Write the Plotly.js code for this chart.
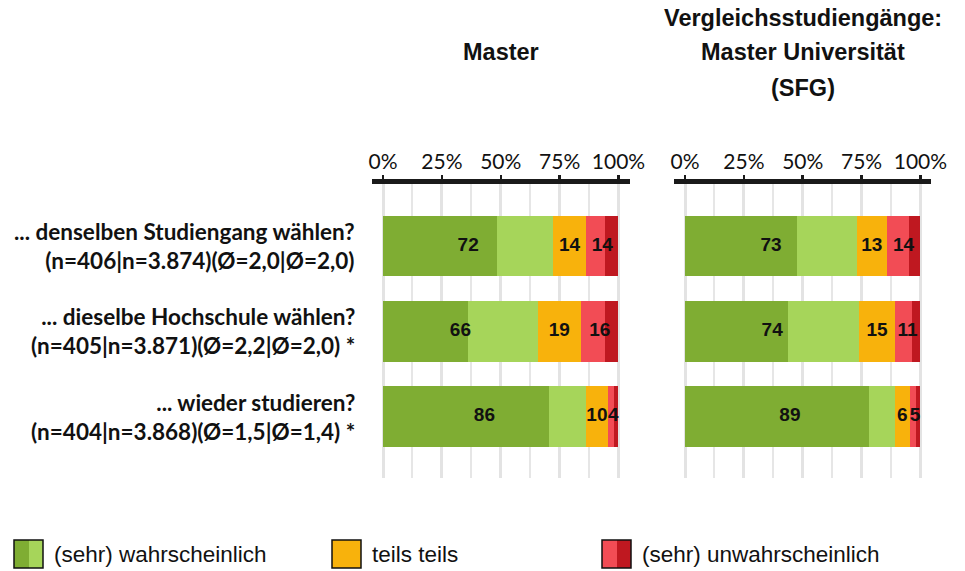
<!DOCTYPE html>
<html>
<head>
<meta charset="utf-8">
<script src="https://cdn.plot.ly/plotly-3.0.1.min.js"></script>
<style>html,body{margin:0;padding:0;background:#fff;}#chart{width:965px;height:571px;}</style>
</head>
<body>
<div id="chart"></div>
<script>
// ---- data ----
const rowPos = [0, 1, 2];
const labelsLine1 = ["... denselben Studiengang wählen?", "... dieselbe Hochschule wählen?", "... wieder studieren?"];
const labelsLine2 = ["(n=406|n=3.874)(Ø=2,0|Ø=2,0)", "(n=405|n=3.871)(Ø=2,2|Ø=2,0) *", "(n=404|n=3.868)(Ø=1,5|Ø=1,4) *"];
const panelTitleLeft = ["Master"];
const panelTitleRight = ["Vergleichsstudiengänge:", "Master Universität", "(SFG)"];
const tickVals = [0, 25, 50, 75, 100];
const tickLabels = ["0%", "25%", "50%", "75%", "100%"];
const legendLabels = ["(sehr) wahrscheinlich", "teils teils", "(sehr) unwahrscheinlich"];

// Master
const masterDG = [48.4, 35.9, 70.5];
const masterLG = [23.9, 29.8, 15.6];
const masterOR = [13.9, 18.4, 9.5];
const masterLR = [8.1, 10.2, 2.6];
const masterDR = [5.7, 5.7, 1.8];
const masterGreenLbl = [72, 66, 86];
const masterOrLbl = [14, 19, 10];
const masterRedLbl = [14, 16, 4];

// Vergleich SFG
const sfgDG = [47.5, 43.7, 78.1];
const sfgLG = [25.5, 30.3, 11.0];
const sfgOR = [12.7, 15.1, 6.4];
const sfgLR = [9.3, 7.2, 2.5];
const sfgDR = [5.0, 3.7, 2.0];
const sfgGreenLbl = [73, 74, 89];
const sfgOrLbl = [13, 15, 6];
const sfgRedLbl = [14, 11, 5];

// ---- styles ----
const C = {dg: "#7FAD33", lg: "#A6D55A", or: "#F8B20C", lr: "#F24C55", dr: "#BF1820"};
const W = 965, H = 571;
const px = v => v / W, py = v => 1 - v / H;

const traces = [];
function panel(xa, ya, dg, lg, or, lr, dr, gL, oL, rL) {
  const segs = [[dg, C.dg], [lg, C.lg], [or, C.or], [lr, C.lr], [dr, C.dr]];
  segs.forEach(s => traces.push({
    type: "bar", orientation: "h", x: s[0], y: rowPos, xaxis: xa, yaxis: ya,
    marker: {color: s[1], line: {width: 0}}, width: 0.71, hoverinfo: "skip", showlegend: false
  }));
  const gx = rowPos.map(i => (dg[i] + lg[i]) / 2);
  const ox = rowPos.map(i => dg[i] + lg[i] + or[i] / 2);
  const rx = rowPos.map(i => dg[i] + lg[i] + or[i] + (lr[i] + dr[i]) / 2);
  [[gx, gL], [ox, oL], [rx, rL]].forEach(p => traces.push({
    type: "scatter", mode: "text", x: p[0], y: rowPos, xaxis: xa, yaxis: ya,
    text: p[1].map(v => "<b>" + v + "</b>"), textposition: "middle center",
    textfont: {family: "Liberation Sans, Arial, sans-serif", size: 19, color: "#111"},
    hoverinfo: "skip", showlegend: false, cliponaxis: false
  }));
}
panel("x", "y", masterDG, masterLG, masterOR, masterLR, masterDR, masterGreenLbl, masterOrLbl, masterRedLbl);
panel("x2", "y2", sfgDG, sfgLG, sfgOR, sfgLR, sfgDR, sfgGreenLbl, sfgOrLbl, sfgRedLbl);

const yDom = [py(478), py(184)];
function xAxis(dom, range) {
  return {
    domain: dom, range: range, side: "top",
    tickmode: "array", tickvals: tickVals, ticktext: tickLabels,
    tickfont: {family: "Lato, Carlito, sans-serif", size: 21, color: "#111"},
    ticks: "outside", ticklen: 4, tickwidth: 2.5, tickcolor: "#1a1a1a",
    ticklabelstandoff: -2,
    showline: true, linecolor: "#1a1a1a", linewidth: 5,
    showgrid: true, gridcolor: "#E3E3E3", gridwidth: 3, zeroline: false,
    minor: {tickmode: "linear", tick0: 0, dtick: 12.5, showgrid: true, gridcolor: "#E6E6E6", gridwidth: 2, ticks: ""},
    fixedrange: true
  };
}
function yAxis() {
  return {domain: yDom, range: [2.72, -0.73], showticklabels: false, showgrid: false,
          zeroline: false, showline: false, ticks: "", fixedrange: true};
}

const annotations = [];
const labFont = {family: "Lato, Carlito, sans-serif", size: 22.5, color: "#111"};
rowPos.forEach(i => {
  annotations.push({xref: "paper", yref: "y", x: px(357), y: rowPos[i], xanchor: "right", yanchor: "middle",
    showarrow: false, text: "<b>" + labelsLine1[i] + "</b><br><b>" + labelsLine2[i] + "</b>",
    font: labFont, align: "right"});
});
const titleFont = {family: "Liberation Sans, Arial, sans-serif", size: 23.5, color: "#111"};
annotations.push({xref: "paper", yref: "paper", x: px(501), y: py(52), xanchor: "center", yanchor: "middle",
  showarrow: false, text: "<b>" + panelTitleLeft[0] + "</b>", font: titleFont});
const rTitleY = [18, 52, 88];
panelTitleRight.forEach((t, k) => annotations.push({xref: "paper", yref: "paper", x: px(802.5), y: py(rTitleY[k]),
  xanchor: "center", yanchor: "middle", showarrow: false, text: "<b>" + t + "</b>", font: titleFont}));

// custom legend (two-tone swatches)
const shapes = [];
const legX = [14, 332, 602];
const legCols = [[C.dg, C.lg], [C.or, C.or], [C.lr, C.dr]];
const legendFont = {family: "Liberation Sans, Arial, sans-serif", size: 22.5, color: "#111"};
legX.forEach((x0, k) => {
  shapes.push({type: "rect", xref: "paper", yref: "paper", x0: px(x0), x1: px(x0 + 15), y0: py(568), y1: py(540),
    fillcolor: legCols[k][0], line: {width: 0}});
  shapes.push({type: "rect", xref: "paper", yref: "paper", x0: px(x0 + 15), x1: px(x0 + 29), y0: py(568), y1: py(540),
    fillcolor: legCols[k][1], line: {width: 0}});
  shapes.push({type: "rect", xref: "paper", yref: "paper", x0: px(x0), x1: px(x0 + 29), y0: py(568), y1: py(540),
    fillcolor: "rgba(0,0,0,0)", line: {width: 1.5, color: "#111"}});
  annotations.push({xref: "paper", yref: "paper", x: px(x0 + 38), y: py(554), xanchor: "left", yanchor: "middle",
    showarrow: false, text: legendLabels[k], font: legendFont});
});

const layout = {
  width: W, height: H, margin: {l: 0, r: 0, t: 0, b: 0},
  paper_bgcolor: "#fff", plot_bgcolor: "rgba(0,0,0,0)",
  barmode: "stack", bargap: 0, showlegend: false,
  xaxis: Object.assign(xAxis([px(372), px(630)], [-4.7, 104.9]), {anchor: "y"}),
  yaxis: Object.assign(yAxis(), {anchor: "x"}),
  xaxis2: Object.assign(xAxis([px(674), px(931)], [-4.7, 104.5]), {anchor: "y2"}),
  yaxis2: Object.assign(yAxis(), {anchor: "x2"}),
  annotations: annotations, shapes: shapes
};
Plotly.newPlot("chart", traces, layout, {displayModeBar: false, staticPlot: true});
</script>
</body>
</html>
